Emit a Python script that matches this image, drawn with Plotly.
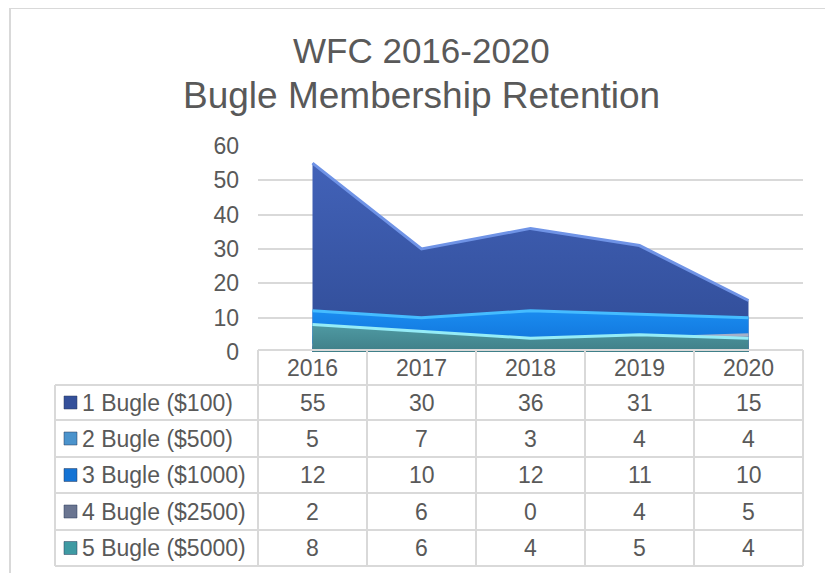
import plotly.graph_objects as go

years = ['2016', '2017', '2018', '2019', '2020']
series_names = ['1 Bugle ($100)', '2 Bugle ($500)', '3 Bugle ($1000)', '4 Bugle ($2500)', '5 Bugle ($5000)']
bugle_1 = [55, 30, 36, 31, 15]
bugle_2 = [5, 7, 3, 4, 4]
bugle_3 = [12, 10, 12, 11, 10]
bugle_4 = [2, 6, 0, 4, 5]
bugle_5 = [8, 6, 4, 5, 4]
y_ticks = [0, 10, 20, 30, 40, 50, 60]

series_values = [bugle_1, bugle_2, bugle_3, bugle_4, bugle_5]

# fill bottom, fill top, edge highlight
colors = [
	('#304c96', '#4262b8', '#6f93e6'),
	('#3a7fc0', '#4f97d6', '#7cc0f0'),
	('#0f6fd6', '#1a8cf0', '#45bcff'),
	('#5f6b8a', '#7783a2', '#a6b0c8'),
	('#3f7f88', '#4f9aa3', '#95ecf7'),
]
key_colors = ['#34509a', '#4b93cc', '#1473d4', '#6a7591', '#3f9aa3']

TXT = '#595959'
GRID = '#d9d9d9'
FONT = 'Liberation Sans, Arial, sans-serif'
FS = 23

W, H = 833, 573
OFF = 8   # the page body adds an 8px margin, so lay out in page pixels minus this
L, R, T, B = 258 - OFF, 803 - OFF, 146 - OFF, 352 - OFF   # plot area in figure pixels


def fx(px):
	return (px - OFF - L) / (R - L)


def fy(py):
	return (B - (py - OFF)) / (B - T)


fig = go.Figure()

for name, vals, (c0, c1, edge) in zip(series_names, series_values, colors):
	fig.add_trace(go.Scatter(
		x=years,
		y=vals,
		name=name,
		mode='lines',
		fill='tozeroy',
		fillgradient=dict(type='vertical', colorscale=[[0, c0], [1, c1]]),
		line=dict(color=edge, width=3),
		hoverinfo='name+y',
	))

# table geometry (page pixels)
col_edges = [258, 367, 476, 585, 694, 803]
col_mids = [(a + b) / 2 for a, b in zip(col_edges[:-1], col_edges[1:])]
row_edges = [385, 420, 457, 493, 530, 566]
header_mid = 368
tbl_left = 55

shapes = []
# outer chart frame
shapes.append(dict(type='rect', xref='paper', yref='paper',
				   x0=fx(10), x1=fx(828), y0=fy(600), y1=fy(8),
				   line=dict(color=GRID, width=2), layer='below'))
# header row top
shapes.append(dict(type='line', xref='paper', yref='paper',
				   x0=fx(258), x1=fx(803), y0=fy(350), y1=fy(350),
				   line=dict(color=GRID, width=2)))
for ry in row_edges:
	shapes.append(dict(type='line', xref='paper', yref='paper',
					   x0=fx(tbl_left), x1=fx(803), y0=fy(ry), y1=fy(ry),
					   line=dict(color=GRID, width=2)))
shapes.append(dict(type='line', xref='paper', yref='paper',
				   x0=fx(tbl_left), x1=fx(tbl_left), y0=fy(385), y1=fy(566),
				   line=dict(color=GRID, width=2)))
for cx in col_edges:
	shapes.append(dict(type='line', xref='paper', yref='paper',
					   x0=fx(cx), x1=fx(cx), y0=fy(350), y1=fy(566),
					   line=dict(color=GRID, width=2)))

annotations = []
# title, two lines
for txt, ty, sz in [('WFC 2016-2020', 50, 35), ('Bugle Membership Retention', 95, 37)]:
	annotations.append(dict(x=fx(421), xref='paper', y=fy(ty), yref='paper',
							text=txt, showarrow=False, xanchor='center', yanchor='middle',
							font=dict(size=sz, color=TXT, family=FONT)))

for yr, cm in zip(years, col_mids):
	annotations.append(dict(x=fx(cm), xref='paper', y=fy(header_mid), yref='paper',
							text=yr, showarrow=False, xanchor='center', yanchor='middle',
							font=dict(size=FS, color=TXT, family=FONT)))

for i, (name, vals) in enumerate(zip(series_names, series_values)):
	mid = (row_edges[i] + row_edges[i + 1]) / 2
	# legend key
	shapes.append(dict(type='rect', xref='paper', yref='paper',
					   x0=fx(64), x1=fx(77), y0=fy(mid + 6.5), y1=fy(mid - 6.5),
					   fillcolor=key_colors[i], line=dict(color='#2a3a5a', width=0.5)))
	annotations.append(dict(x=fx(80), xref='paper', y=fy(mid), yref='paper',
							text=name, showarrow=False, xanchor='left', yanchor='middle',
							font=dict(size=FS, color=TXT, family=FONT)))
	for cm, v in zip(col_mids, vals):
		annotations.append(dict(x=fx(cm), xref='paper', y=fy(mid), yref='paper',
								text=str(v), showarrow=False, xanchor='center', yanchor='middle',
								font=dict(size=FS, color=TXT, family=FONT)))

fig.update_layout(
	width=W,
	height=H,
	margin=dict(l=L, r=W - R, t=T, b=H - B),
	paper_bgcolor='white',
	plot_bgcolor='white',
	showlegend=False,
	xaxis=dict(
		type='category',
		range=[-0.5, 4.5],
		showticklabels=False,
		showgrid=False,
		zeroline=False,
		showline=False,
		fixedrange=True,
	),
	yaxis=dict(
		range=[0, 60],
		tickvals=y_ticks,
		showgrid=True,
		gridcolor=GRID,
		gridwidth=1.5,
		zeroline=False,
		showline=False,
		ticks='',
		ticklabelstandoff=18,
		tickfont=dict(size=FS, color=TXT, family=FONT),
		fixedrange=True,
	),
	shapes=shapes,
	annotations=annotations,
)

fig.write_html('out.html')
